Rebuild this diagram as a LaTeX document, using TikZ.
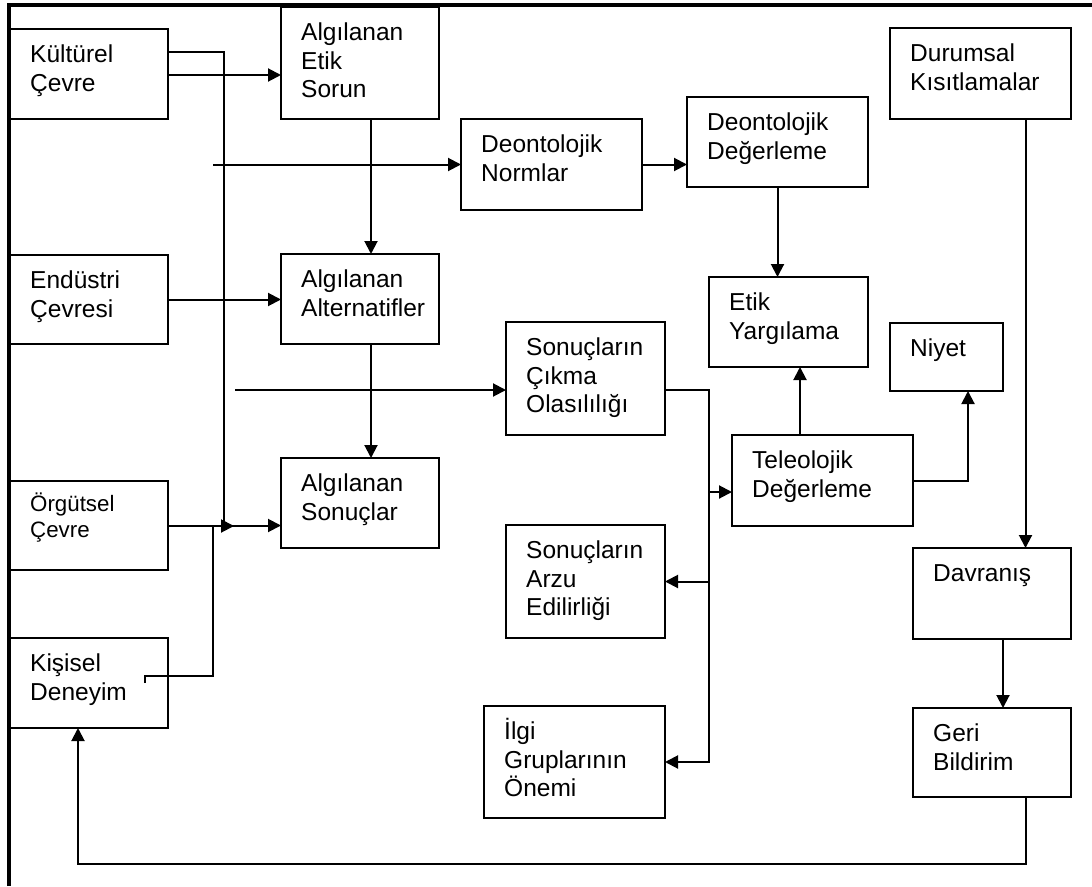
\documentclass[tikz,border=0pt]{standalone}
\usepackage{fontspec}
\setmainfont{Liberation Sans}
\usetikzlibrary{arrows.meta}

\tikzset{
  box/.style={draw, line width=2pt, anchor=north west, inner sep=0pt, outer sep=0pt},
  lbl/.style={anchor=north west, align=left, inner sep=0pt,
              font=\fontsize{24.5}{28.3}\selectfont},
  smalllbl/.style={font=\fontsize{22.3}{26}\selectfont},
  conn/.style={line width=2pt},
  arr/.style={conn, -{Triangle[length=13pt,width=13pt]}},
  frame/.style={line width=4pt},
}

% first line gets a fixed height of 24pt above its baseline
\newcommand\firstline{\rule{0pt}{24pt}}

% \mkbox[label style]{name}{left}{top}{width}{height}{text}
\newcommand\mkbox[7][]{%
  \node[box, minimum width=#5pt, minimum height=#6pt] (#2) at (#3,#4) {};
  \node[lbl,#1] (#2t) at ([shift={(20,9.5)}]#2.north west) {\firstline#7};
}

\begin{document}
\begin{tikzpicture}[x=1pt, y=-1pt]
  \useasboundingbox (0,0) rectangle (1092,886);

  % outer frame (left and top edges)
  \draw[frame] (8.5,886) -- (8.5,5) -- (1092,5);

  % left column: environment factors
  \mkbox{kult}{10}{29}{158}{90}{Kültürel\\Çevre}
  \mkbox{endu}{10}{255}{158}{89}{Endüstri\\Çevresi}
  \node[box, minimum width=158pt, minimum height=89pt] (orgt) at (10,481) {};
  \node[lbl, smalllbl] (orgtt) at ([shift={(20,6)}]orgt.north west) {\firstline Örgütsel\\Çevre};
  \mkbox{kisi}{10}{638}{158}{90}{Kişisel\\Deneyim}

  % perception column
  \mkbox{etso}{281}{7}{158}{112}{Algılanan\\Etik\\Sorun}
  \mkbox{alte}{281}{254}{158}{90}{Algılanan\\Alternatifler}
  \mkbox{sonu}{281}{458}{158}{90}{Algılanan\\Sonuçlar}

  % deontological branch
  \mkbox{norm}{461}{119}{181}{91}{Deontolojik\\Normlar}
  \mkbox{dege}{687}{97}{181}{90}{Deontolojik\\Değerleme}
  \mkbox{yarg}{709}{277}{159}{90}{Etik\\Yargılama}

  % teleological branch
  \mkbox{cikm}{506}{322}{159}{113}{Sonuçların\\Çıkma\\Olasılılığı}
  \mkbox{tele}{732}{435}{181}{91}{Teleolojik\\Değerleme}
  \mkbox{arzu}{506}{525}{159}{113}{Sonuçların\\Arzu\\Edilirliği}
  \mkbox{ilgi}{484}{706}{181}{112}{İlgi\\Gruplarının\\Önemi}

  % right column
  \mkbox{niye}{890}{323}{113}{68}{Niyet}
  \mkbox{duru}{890}{28}{181}{91}{Durumsal\\Kısıtlamalar}
  \mkbox{davr}{913}{548}{158}{91}{Davranış}
  \mkbox{geri}{913}{708}{158}{89}{Geri\\Bildirim}

  % junction points and free line ends
  \coordinate (jk) at (224,526);
  \coordinate (jo) at (213,526);
  \coordinate (kt) at (145,683);
  \coordinate (dn) at (213,164.5);
  \coordinate (ds) at (235,390);
  \coordinate (busb) at (709,762);
  \coordinate (fbl) at (0,864);

  % left column into perception column
  \draw[arr] ([yshift=-1pt]kult.east) -- ([yshift=-1pt]kult.east -| etso.west);
  \draw[arr] ([yshift=22pt]kult.east) -| (jk) -- ++(10,0);
  \draw[arr] (endu.east) -- (endu.east -| alte.west);
  \draw[arr] (orgt.east) -- (orgt.east -| sonu.west);
  \draw[conn] (kt) -- ++(0,-7) -| (jo);

  % perception chain
  \draw[arr] ([xshift=11pt]etso.south) -- ([xshift=11pt]alte.north);
  \draw[arr] ([xshift=11pt]alte.south) -- ([xshift=11pt]sonu.north);

  % deontological chain
  \draw[arr] (dn) -- (norm.west);
  \draw[arr] (norm.east) -- (norm.east -| dege.west);
  \draw[arr] (dege.south) -- (dege.south |- yarg.north);

  % teleological chain
  \draw[arr] (ds) -- (ds -| cikm.west);
  \draw[arr] ([yshift=-11.5pt]cikm.east) -| (busb) -- (ilgi.east);
  \draw[arr] ([yshift=-11.5pt]tele.west -| busb) -- ([yshift=-11.5pt]tele.west);
  \draw[arr] (arzu.east -| busb) -- (arzu.east);
  \draw[arr] ([xshift=11.5pt]yarg.south |- tele.north) -- ([xshift=11.5pt]yarg.south);
  \draw[arr] (tele.east) -| ([xshift=21.5pt]niye.south);

  % behaviour and feedback
  \draw[arr] ([xshift=45pt]duru.south) -- ([xshift=45pt]duru.south |- davr.north);
  \draw[arr] ([xshift=11pt]davr.south) -- ([xshift=11pt]geri.north);
  \draw[arr] ([xshift=34pt]geri.south) -- ([xshift=34pt]geri.south |- fbl) -| ([xshift=-11pt]kisi.south);
\end{tikzpicture}
\end{document}
